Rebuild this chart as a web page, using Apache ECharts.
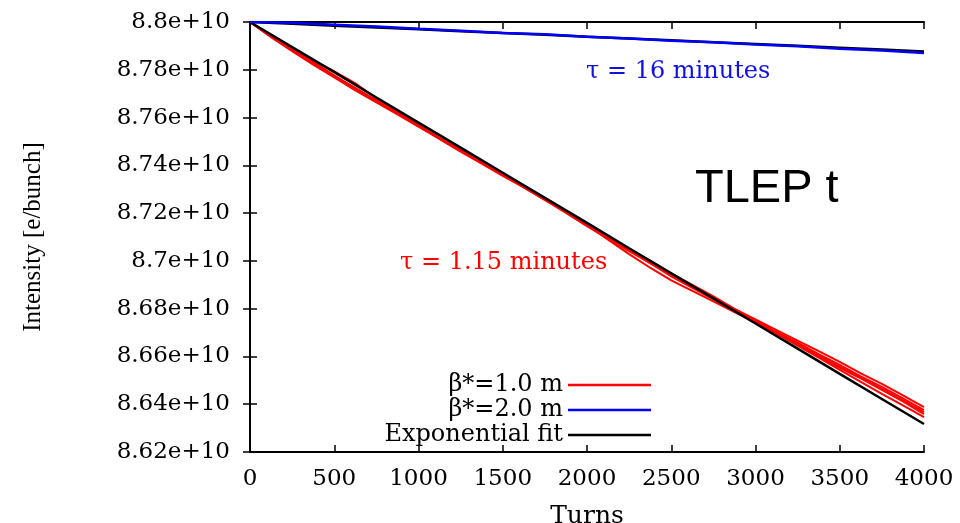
<!DOCTYPE html>
<html>
<head>
<meta charset="utf-8">
<script src="https://cdn.jsdelivr.net/npm/echarts@6/dist/echarts.min.js"></script>
<style>html,body{margin:0;padding:0;background:#fff;overflow:hidden}#c{width:960px;height:523px}</style>
</head>
<body>
<div id="c"></div>
<script>
// Intensity values are in units of 1e10 e/bunch (axis labels append "e+10")
const yMin = 8.62, yMax = 8.8, yStep = 0.02;
const xMin = 0, xMax = 4000, xStep = 500;

// Turns for the tracked runs (fine) and for the fits / blue run (coarse)
const turnsFine = [0,125,250,375,500,625,750,875,1000,1125,1250,1375,1500,1625,1750,1875,2000,2125,2250,2375,2500,2625,2750,2875,3000,3125,3250,3375,3500,3625,3750,3875,4000];
const turns = [0,250,500,750,1000,1250,1500,1750,2000,2250,2500,2750,3000,3250,3500,3750,4000];

// beta* = 1.0 m : several tracked runs (red)
const red1 = [8.8,8.79432,8.78864,8.78380,8.77938,8.77433,8.76802,8.76234,8.75709,8.75141,8.74615,8.74131,8.73647,8.73142,8.72637,8.72090,8.71585,8.71038,8.70491,8.70007,8.69481,8.68997,8.68513,8.67987,8.67504,8.67020,8.66577,8.66093,8.65651,8.65167,8.64725,8.64241,8.63757];
const red2 = [8.8,8.79390,8.78822,8.78254,8.77728,8.77181,8.76676,8.76171,8.75667,8.75141,8.74615,8.74110,8.73605,8.73100,8.72595,8.72048,8.71501,8.70891,8.70282,8.69714,8.69188,8.68745,8.68303,8.67861,8.67420,8.66978,8.66494,8.66010,8.65525,8.65083,8.64599,8.64115,8.63589];
const red3 = [8.8,8.79369,8.78780,8.78212,8.77686,8.77140,8.76634,8.76129,8.75625,8.75099,8.74573,8.74068,8.73563,8.73079,8.72553,8.72048,8.71543,8.70996,8.70449,8.69944,8.69439,8.68955,8.68471,8.67966,8.67462,8.66957,8.66452,8.65947,8.65442,8.64937,8.64432,8.63947,8.63463];
const red4 = [8.8,8.79411,8.78822,8.78275,8.77728,8.77244,8.76718,8.76171,8.75625,8.75141,8.74657,8.74131,8.73605,8.73079,8.72553,8.72006,8.71459,8.70933,8.70407,8.69902,8.69397,8.68913,8.68429,8.67987,8.67546,8.67103,8.66661,8.66219,8.65777,8.65293,8.64851,8.64366,8.63882];
const red5 = [8.8,8.79432,8.78864,8.78317,8.77770,8.77223,8.76676,8.76171,8.75667,8.75141,8.74615,8.74131,8.73647,8.73121,8.72595,8.72069,8.71543,8.70996,8.70449,8.69902,8.69355,8.68871,8.68387,8.67924,8.67462,8.66999,8.66536,8.66051,8.65567,8.65104,8.64641,8.64157,8.63673];
// beta* = 2.0 m (blue)
const blue1 = [8.8,8.79965,8.79888,8.79811,8.79714,8.79637,8.79539,8.79483,8.79385,8.79308,8.79210,8.79154,8.79057,8.78980,8.78882,8.78805,8.78707];
// Exponential fits (black)
const fitFast = [8.8,8.7895,8.7790,8.7684,8.7579,8.7474,8.7369,8.7264,8.7159,8.7053,8.6948,8.6843,8.6738,8.6633,8.6527,8.6422,8.6317];
const fitSlow = [8.8,8.79923,8.79846,8.79769,8.79693,8.79616,8.79539,8.79462,8.79385,8.79308,8.79231,8.79154,8.79078,8.79001,8.78924,8.78847,8.7877];

const nameRed = 'β*=1.0 m', nameBlue = 'β*=2.0 m', nameFit = 'Exponential fit';
const SERIF = '"DejaVu Serif", serif';

function pairs(xs, arr){ return xs.map((t,i)=>[t,arr[i]]); }
function line(name, xs, arr, color, width){
  return {type:'line', name:name, data:pairs(xs, arr), showSymbol:false, symbol:'none', animation:false,
    lineStyle:{color:color, width:width}, itemStyle:{color:color}, xAxisIndex:0, yAxisIndex:0};
}
const yFmt = v => parseFloat(v.toFixed(2)) + 'e+10';
const xFmt = v => String(Math.round(v));

const chart = echarts.init(document.getElementById('c'), null, {renderer:'canvas'});
const axisLine = {show:true, lineStyle:{color:'#000', width:2}};
const ticks = {show:true, inside:true, length:7, lineStyle:{color:'#000', width:1.5}};
chart.setOption({
  backgroundColor:'#fff',
  animation:false,
  grid:{left:250, right:36, top:22, bottom:71, containLabel:false, outerBoundsMode:'none'},
  xAxis:[
    {type:'value', min:xMin, max:xMax, interval:xStep, position:'bottom',
     axisLine:axisLine, axisTick:ticks, splitLine:{show:false},
     axisLabel:{margin:16, color:'#000', fontFamily:SERIF, fontSize:23, formatter:xFmt},
     name:'Turns', nameLocation:'middle', nameGap:52,
     nameTextStyle:{color:'#000', fontFamily:SERIF, fontSize:25}},
    {type:'value', min:xMin, max:xMax, interval:xStep, position:'top',
     axisLine:axisLine, axisTick:ticks, splitLine:{show:false}, axisLabel:{show:false}}
  ],
  yAxis:[
    {type:'value', min:yMin, max:yMax, interval:yStep, position:'left',
     axisLine:axisLine, axisTick:ticks, splitLine:{show:false},
     axisLabel:{margin:20, color:'#000', fontFamily:SERIF, fontSize:23, formatter:yFmt},
     name:'Intensity [e/bunch]', nameLocation:'middle', nameGap:204, nameRotate:90,
     nameTextStyle:{color:'#000', fontFamily:'"Liberation Serif", serif', fontSize:25}},
    {type:'value', min:yMin, max:yMax, interval:yStep, position:'right',
     axisLine:axisLine, axisTick:ticks, splitLine:{show:false}, axisLabel:{show:false}}
  ],
  legend:{
    orient:'vertical', align:'right', right:309, top:373, padding:0,
    data:[nameRed, nameBlue, nameFit],
    icon:'rect', itemWidth:83, itemHeight:2.5, itemGap:1,
    textStyle:{color:'#000', fontFamily:SERIF, fontSize:24},
    selectedMode:false
  },
  graphic:[
    {type:'text', left:586, top:60, style:{text:'τ = 16 minutes', fill:'#1010e0', font:'24px "DejaVu Serif", serif'}},
    {type:'text', left:400, top:251, style:{text:'τ = 1.15 minutes', fill:'#ff0000', font:'24px "DejaVu Serif", serif'}},
    {type:'text', left:695, top:166, style:{text:'TLEP t', fill:'#000', font:'47px "Liberation Sans", Arial, sans-serif'}}
  ],
  series:[
    line(nameRed, turnsFine, red1, '#ff0000', 2),
    line(nameRed, turnsFine, red2, '#ff0000', 2),
    line(nameRed, turnsFine, red3, '#ff0000', 2),
    line(nameRed, turnsFine, red4, '#ff0000', 2),
    line(nameRed, turnsFine, red5, '#ff0000', 2),
    line(nameFit, turns, fitFast, '#000000', 2.5),
    line(nameFit, turns, fitSlow, '#000000', 2.5),
    line(nameBlue, turns, blue1, '#0000ff', 2.5)
  ]
});
</script>
</body>
</html>
